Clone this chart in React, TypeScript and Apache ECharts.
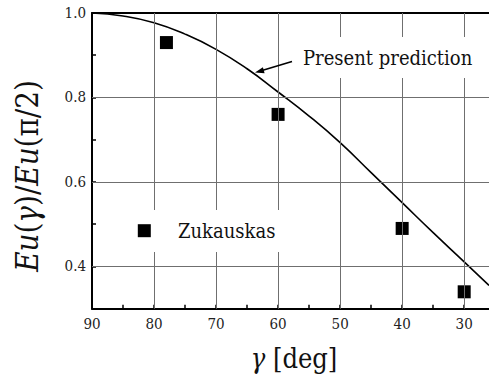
import React, { useEffect, useRef } from "react";
import * as echarts from "echarts";

const curveAngles = [90, 85, 80, 75, 70, 65, 60, 55, 50, 45, 40, 35, 30, 26];
const curveValues = [1.0, 0.993, 0.977, 0.95, 0.914, 0.868, 0.813, 0.756, 0.693, 0.622, 0.551, 0.48, 0.411, 0.355];
const zukAngles = [78, 60, 40, 30];
const zukValues = [0.93, 0.76, 0.49, 0.34];
const xLabelValues = [90, 80, 70, 60, 50, 40, 30];
const xTickValues = [90, 85, 80, 75, 70, 65, 60, 55, 50, 45, 40, 35, 30];
const xGridValues = [80, 70, 60, 50, 40, 30];
const yGridValues = [0.4, 0.6, 0.8];

const FONT = "DejaVu Serif Condensed, DejaVu Serif";

export default function App() {
  const ref = useRef<HTMLDivElement>(null);
  useEffect(() => {
    if (!ref.current) return;
    const chart = echarts.init(ref.current, null, { renderer: "svg" });
    const curve = curveAngles.map((a, i) => [a, curveValues[i]]);
    const zuk = zukAngles.map((a, i) => [a, zukValues[i]]);
    chart.setOption({
      animation: false,
      backgroundColor: "#fff",
      textStyle: { fontFamily: FONT },
      grid: { left: 92, top: 13, right: 0, height: 295.7, containLabel: false, outerBoundsMode: "none" },
      xAxis: [
        {
          type: "value",
          min: 26,
          max: 90,
          inverse: true,
          axisLine: { onZero: false, lineStyle: { color: "#000", width: 2 } },
          axisTick: { inside: true, length: 4, customValues: xTickValues, lineStyle: { color: "#000", width: 1.5 } },
          splitLine: { show: false },
          axisLabel: {
            margin: 8,
            color: "#222",
            fontFamily: FONT,
            fontSize: 15,
            customValues: xLabelValues,
          },
        },
        {
          type: "value",
          position: "top",
          min: 26,
          max: 90,
          inverse: true,
          axisLine: { onZero: false, lineStyle: { color: "#000", width: 2 } },
          axisTick: { show: false },
          axisLabel: { show: false },
          splitLine: { show: false },
        },
      ],
      yAxis: {
        type: "value",
        min: 0.3,
        max: 1.0,
        interval: 0.1,
        axisLine: { show: true, onZero: false, lineStyle: { color: "#000", width: 2 } },
        axisTick: { show: true, inside: true, length: 4, lineStyle: { color: "#000", width: 1.5 } },
        splitLine: { show: false },
        axisLabel: {
          margin: 6,
          color: "#222",
          fontFamily: FONT,
          fontSize: 15,
          formatter: (v: number) => {
            const k = Math.round(v * 10);
            return k % 2 === 0 && k >= 4 ? (k / 10).toFixed(1) : "";
          },
        },
      },
      series: [
        {
          type: "line",
          data: curve,
          smooth: 0.5,
          showSymbol: false,
          symbol: "none",
          lineStyle: { color: "#000", width: 1.6 },
          z: 3,
          markLine: {
            silent: true,
            symbol: "none",
            label: { show: false },
            lineStyle: { color: "#6f6f6f", width: 1, type: "solid" },
            data: [
              ...xGridValues.map((v) => ({ xAxis: v })),
              ...yGridValues.map((v) => ({ yAxis: v })),
            ],
          },
        },
        {
          type: "scatter",
          data: zuk,
          symbol: "rect",
          symbolSize: 13,
          itemStyle: { color: "#000", opacity: 1 },
          z: 4,
        },
      ],
      graphic: [
        { type: "rect", z: 50, shape: { x: 134, y: 210, width: 154, height: 42 }, style: { fill: "#fff" } },
        { type: "rect", z: 51, shape: { x: 137.8, y: 224.2, width: 13, height: 13 }, style: { fill: "#000" } },
        {
          type: "text", z: 51, x: 178, y: 231,
          style: { text: "Zukauskas", fontFamily: FONT, fontSize: 20, fill: "#111", verticalAlign: "middle", align: "left" },
        },
        { type: "rect", z: 50, shape: { x: 296, y: 37, width: 186, height: 41 }, style: { fill: "#fff" } },
        {
          type: "text", z: 51, x: 303, y: 58,
          style: { text: "Present prediction", fontFamily: FONT, fontSize: 20, fill: "#111", verticalAlign: "middle", align: "left" },
        },
        {
          type: "line", z: 52,
          shape: { x1: 292, y1: 61.5, x2: 262, y2: 70.5 },
          style: { stroke: "#000", lineWidth: 1.6 },
        },
        {
          type: "polygon", z: 52,
          shape: { points: [[255, 72.6], [264.6, 73.2], [262.9, 67.3]] },
          style: { fill: "#000" },
        },
        {
          type: "text", z: 51, x: 294, y: 358,
          style: {
            text: "{i|γ} [deg]",
            fontFamily: FONT, fontSize: 27, fill: "#111", align: "center", verticalAlign: "middle",
            rich: { i: { fontStyle: "italic", fontFamily: FONT, fontSize: 27, fill: "#111" } },
          },
        },
        {
          type: "text", z: 51, x: 27, y: 176, rotation: Math.PI / 2,
          style: {
            text: "{i|Eu}({i|γ})/{i|Eu}(π/2)",
            fontFamily: FONT, fontSize: 31, fill: "#111", align: "center", verticalAlign: "middle",
            rich: { i: { fontStyle: "italic", fontFamily: FONT, fontSize: 31, fill: "#111" } },
          },
        },
      ],
    });
    return () => chart.dispose();
  }, []);
  return (
    <div
      ref={ref}
      style={{ position: "absolute", left: 0, top: 0, width: 489, height: 380 }}
    />
  );
}
